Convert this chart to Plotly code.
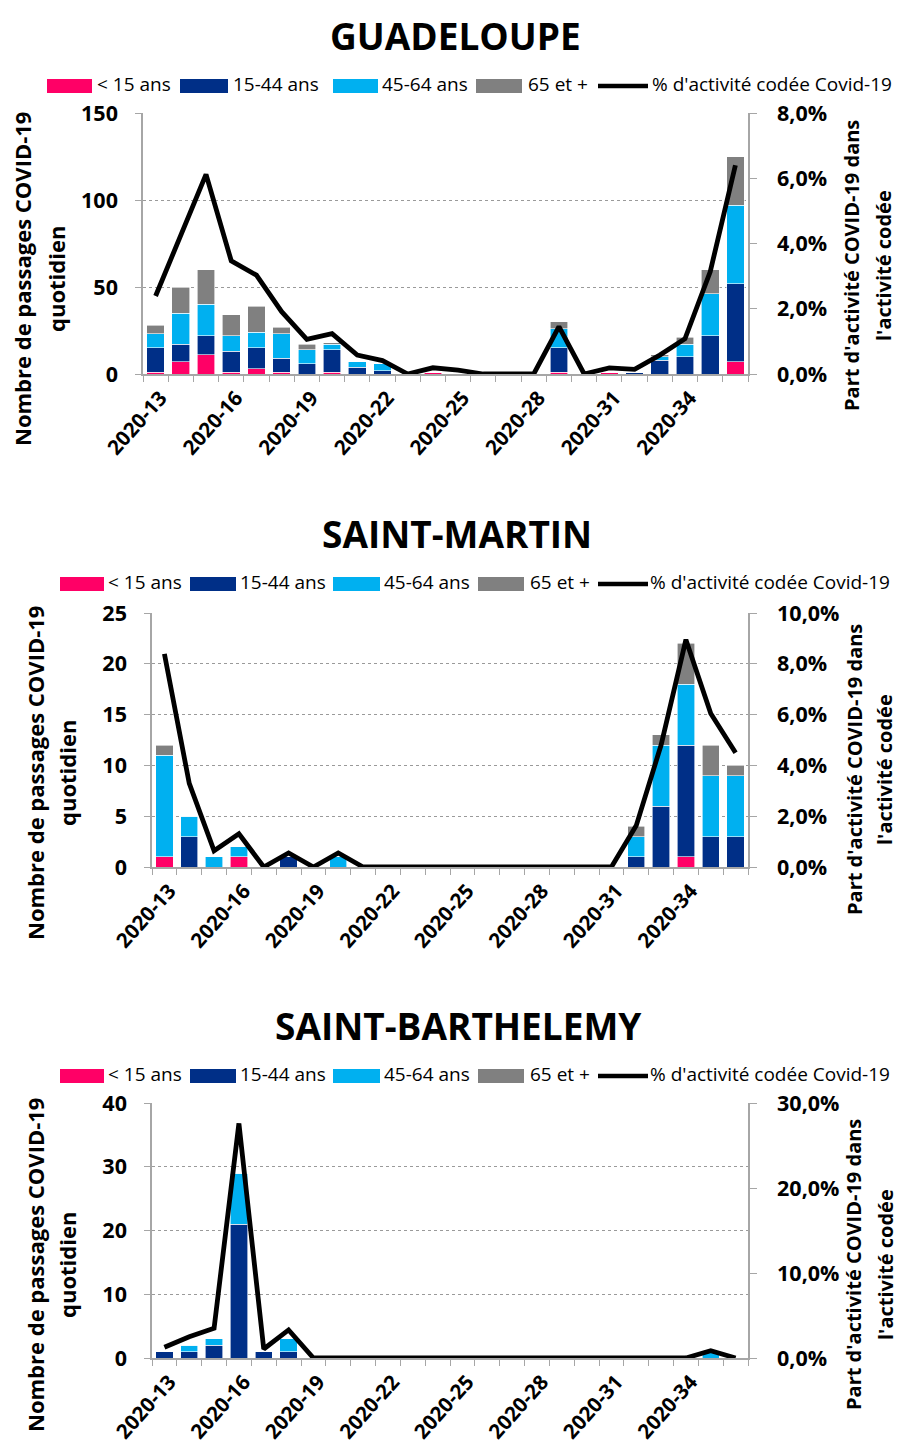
import plotly.graph_objects as go

weeks = [f"2020-{w}" for w in range(13, 37)]
tick_labels = ["2020-13", "2020-16", "2020-19", "2020-22", "2020-25", "2020-28", "2020-31", "2020-34"]

# GUADELOUPE
g_lt15 = [1, 7, 11, 1, 3, 1, 0, 1, 0, 0, 0, 1, 0, 0, 0, 0, 1, 0, 1, 0, 0, 0, 0, 7]
g_15_44 = [14, 10, 11, 12, 12, 8, 6, 13, 4, 2, 0, 0, 0, 0, 0, 0, 14, 0, 0, 1, 8, 10, 22, 45]
g_45_64 = [8, 18, 18, 9, 9, 14, 8, 3, 3, 4, 0, 0, 0, 0, 0, 0, 11, 0, 0, 0, 2, 7, 24, 45]
g_65 = [5, 15, 20, 12, 15, 4, 3, 1, 0, 0, 0, 0, 0, 0, 0, 0, 4, 0, 0, 0, 1, 4, 14, 28]
g_pct = [2.39, 4.3, 6.12, 3.47, 3.03, 1.91, 1.06, 1.24, 0.58, 0.41, 0, 0.19, 0.12, 0, 0, 0,
         1.45, 0, 0.19, 0.14, 0.58, 1.08, 3.13, 6.4]

# SAINT-MARTIN
m_lt15 = [1, 0, 0, 1, 0, 0, 0, 0, 0, 0, 0, 0, 0, 0, 0, 0, 0, 0, 0, 0, 0, 1, 0, 0]
m_15_44 = [0, 3, 0, 0, 0, 1, 0, 0, 0, 0, 0, 0, 0, 0, 0, 0, 0, 0, 0, 1, 6, 11, 3, 3]
m_45_64 = [10, 2, 1, 1, 0, 0, 0, 1, 0, 0, 0, 0, 0, 0, 0, 0, 0, 0, 0, 2, 6, 6, 6, 6]
m_65 = [1, 0, 0, 0, 0, 0, 0, 0, 0, 0, 0, 0, 0, 0, 0, 0, 0, 0, 0, 1, 1, 4, 3, 1]
m_pct = [8.39, 3.29, 0.64, 1.31, 0, 0.55, 0, 0.55, 0, 0, 0, 0, 0, 0, 0, 0, 0, 0, 0,
         1.63, 4.8, 8.95, 6.04, 4.5]

# SAINT-BARTHELEMY
b_lt15 = [0] * 24
b_15_44 = [1, 1, 2, 21, 1, 1, 0, 0, 0, 0, 0, 0, 0, 0, 0, 0, 0, 0, 0, 0, 0, 0, 0, 0]
b_45_64 = [0, 1, 1, 8, 0, 2, 0, 0, 0, 0, 0, 0, 0, 0, 0, 0, 0, 0, 0, 0, 0, 0, 1, 0]
b_65 = [0] * 24
b_pct = [1.26, 2.5, 3.5, 27.6, 1.06, 3.3, 0, 0, 0, 0, 0, 0, 0, 0, 0, 0, 0, 0, 0, 0, 0, 0, 0.86, 0]

series_names = ["< 15 ans", "15-44 ans", "45-64 ans", "65 et +"]
line_name = "% d'activité codée Covid-19"
colors = ["#FF0066", "#002F87", "#00B0F0", "#808080"]

panels = [
    dict(title="GUADELOUPE", bars=[g_lt15, g_15_44, g_45_64, g_65], pct=g_pct,
         yrange=[0, 150], ydtick=50, y2range=[0, 0.08], y2dtick=0.02,
         xdom=[143, 748], ydom=[113, 374], title_y=32, title_x=455, legend_y=86,
         sw=[[47, 92], [180, 228], [333, 378], [476, 522]], line_sw=[598, 648],
         txt=[97, 233, 382, 528, 652],
         lt_x=[22, 56], lt_y=279, rt_x=[852, 884], rt_y=266),
    dict(title="SAINT-MARTIN", bars=[m_lt15, m_15_44, m_45_64, m_65], pct=m_pct,
         yrange=[0, 25], ydtick=5, y2range=[0, 0.10], y2dtick=0.02,
         xdom=[152, 748], ydom=[613, 867], title_y=530, title_x=457, legend_y=584,
         sw=[[60, 104], [190, 236], [333, 380], [478, 524]], line_sw=[598, 648],
         txt=[108, 240, 384, 530, 650],
         lt_x=[35, 67], lt_y=773, rt_x=[855, 885], rt_y=770),
    dict(title="SAINT-BARTHELEMY", bars=[b_lt15, b_15_44, b_45_64, b_65], pct=b_pct,
         yrange=[0, 40], ydtick=10, y2range=[0, 0.30], y2dtick=0.10,
         xdom=[152, 748], ydom=[1103, 1358], title_y=1022, title_x=458, legend_y=1076,
         sw=[[60, 104], [190, 236], [333, 380], [478, 524]], line_sw=[598, 648],
         txt=[108, 240, 384, 530, 650],
         lt_x=[35, 67], lt_y=1265, rt_x=[853, 885], rt_y=1265),
]

W, H = 898, 1445
FONT = "'Open Sans', sans-serif"


def px(x):
    return x / W


def py(y):
    return 1 - y / H


fig = go.Figure()
annotations = []
shapes = []
layout = dict(
    width=W, height=H, margin=dict(l=0, r=0, t=0, b=0, autoexpand=False),
    paper_bgcolor="white", plot_bgcolor="white", showlegend=False,
    barmode="stack", bargap=0.3, separators=", ",
    font=dict(family=FONT, color="black", size=17),
)

ticktext = [w if w in tick_labels else "" for w in weeks]

for i, p in enumerate(panels):
    n = i + 1
    xa = "x" if n == 1 else f"x{n}"
    ya = "y" if n == 1 else f"y{2*n-1}"
    ya2 = f"y{2*n}"
    for name, vals, col in zip(series_names, p["bars"], colors):
        fig.add_trace(go.Bar(x=weeks, y=vals, name=name,
                             marker=dict(color=col, line=dict(color="white", width=0.6)),
                             xaxis=xa, yaxis=ya))
    fig.add_trace(go.Scatter(x=weeks, y=[v / 100 for v in p["pct"]], name=line_name, mode="lines",
                             line=dict(color="black", width=4.8), xaxis=xa, yaxis=ya2))

    xd = [px(p["xdom"][0]), px(p["xdom"][1])]
    yd = [py(p["ydom"][1]), py(p["ydom"][0])]
    xkey = "xaxis" if n == 1 else f"xaxis{n}"
    ykey = "yaxis" if n == 1 else f"yaxis{2*n-1}"
    y2key = f"yaxis{2*n}"
    layout[xkey] = dict(domain=xd, anchor=ya, automargin=False,
                        type="category", tickmode="array", tickvals=weeks, ticktext=ticktext,
                        tickangle=-48, tickson="boundaries", ticks="outside", ticklen=6,
                        tickcolor="#A6A6A6", showline=True, linecolor="#A6A6A6", linewidth=1.5,
                        ticklabelstandoff=2, ticklabelshift=5,
                        tickfont=dict(family=FONT, size=20.5, color="black", weight="bold"),
                        showgrid=False, range=[-0.5, 23.5])
    layout[ykey] = dict(domain=yd, anchor=xa, automargin=False, range=p["yrange"], dtick=p["ydtick"], tick0=0,
                        showline=True, linecolor="#A6A6A6", linewidth=1.5,
                        ticks="outside", ticklen=6, tickcolor="#A6A6A6",
                        showgrid=True, gridcolor="#9A9A9A", griddash="dot", gridwidth=1.2,
                        zeroline=False, ticklabelstandoff=13,
                        tickfont=dict(family=FONT, size=21.5, color="black", weight="bold"))
    layout[y2key] = dict(domain=yd, anchor=xa, automargin=False, overlaying=ya, side="right",
                         range=p["y2range"], dtick=p["y2dtick"], tick0=0, tickformat=".1%",
                         showline=True, linecolor="#A6A6A6", linewidth=1.5,
                         ticks="outside", ticklen=7, tickcolor="#A6A6A6",
                         showgrid=False, zeroline=False, ticklabelstandoff=16,
                         tickfont=dict(family=FONT, size=21.5, color="black", weight="bold"))

    # chart title
    annotations.append(dict(text=f"<b>{p['title']}</b>", x=px(p["title_x"]), y=py(p["title_y"] + 3),
                            xref="paper", yref="paper", showarrow=False,
                            font=dict(family=FONT, size=37, color="black"), xanchor="center", yanchor="middle"))
    # axis titles
    for txt, xx in zip(["Nombre de passages COVID-19", "quotidien"], p["lt_x"]):
        annotations.append(dict(text=f"<b>{txt}</b>", x=px(xx), y=py(p["lt_y"]),
                                xref="paper", yref="paper", showarrow=False, textangle=-90,
                                font=dict(family=FONT, size=22, color="black"),
                                xanchor="center", yanchor="middle"))
    for txt, xx in zip(["Part d'activité COVID-19 dans", "l'activité codée"], p["rt_x"]):
        annotations.append(dict(text=f"<b>{txt}</b>", x=px(xx), y=py(p["rt_y"]),
                                xref="paper", yref="paper", showarrow=False, textangle=-90,
                                font=dict(family=FONT, size=20, color="black"),
                                xanchor="center", yanchor="middle"))
    # legend
    ly = p["legend_y"]
    for (x0, x1), col in zip(p["sw"], colors):
        shapes.append(dict(type="rect", xref="paper", yref="paper", x0=px(x0), x1=px(x1),
                           y0=py(ly + 7), y1=py(ly - 7), fillcolor=col, line=dict(width=0)))
    shapes.append(dict(type="line", xref="paper", yref="paper", x0=px(p["line_sw"][0]), x1=px(p["line_sw"][1]),
                       y0=py(ly), y1=py(ly), line=dict(color="black", width=4.5)))
    for txt, xx in zip(series_names + [line_name], p["txt"]):
        annotations.append(dict(text=txt, x=px(xx), y=py(ly - 2), xref="paper", yref="paper", showarrow=False,
                                font=dict(family=FONT, size=19, color="black"),
                                xanchor="left", yanchor="middle", xshift=-2))

layout["annotations"] = annotations
layout["shapes"] = shapes
fig.update_layout(**layout)
fig.write_html("out.html", config={"displayModeBar": False},
               post_script="document.body.style.margin='0';document.body.style.overflow='hidden';")
